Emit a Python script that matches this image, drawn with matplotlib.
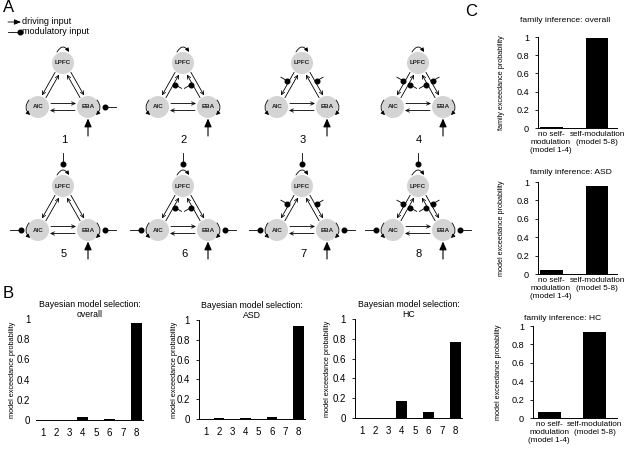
import matplotlib
matplotlib.use("Agg")
import matplotlib.pyplot as plt
import numpy as np
from matplotlib.patches import Circle, FancyArrowPatch

plt.rcParams['font.family'] = ['Liberation Sans', 'DejaVu Sans']

# ---- data ----
model_ids = [1, 2, 3, 4, 5, 6, 7, 8]
self_mod = [["EBA"], [], [], [], ["LPFC", "AIC", "EBA"], ["LPFC", "AIC", "EBA"],
            ["LPFC", "AIC", "EBA"], ["LPFC", "AIC", "EBA"]]
fwd_mod = [False, True, False, True, False, True, False, True]
bwd_mod = [False, False, True, True, False, False, True, True]

bms_overall = [0, 0, 0, 0.025, 0, 0.01, 0, 0.96]
bms_asd = [0, 0.015, 0, 0.015, 0, 0.02, 0, 0.94]
bms_hc = [0, 0, 0, 0.17, 0, 0.06, 0, 0.77]

family_labels = ["no self-\nmodulation\n(model 1-4)", "self-modulation\n(model 5-8)"]
fam_overall = [0.01, 0.99]
fam_asd = [0.04, 0.96]
fam_hc = [0.07, 0.93]

yticks = [0, 0.2, 0.4, 0.6, 0.8, 1]
ytick_labels = ["0", "0.2", "0.4", "0.6", "0.8", "1"]

W, H = 630, 450
fig = plt.figure(figsize=(6.3, 4.5), dpi=100)

# overlay axes in pixel coords for panel A
bg = fig.add_axes([0, 0, 1, 1])
bg.set_xlim(0, W)
bg.set_ylim(H, 0)
bg.axis("off")

LW = 0.6
NODE_R = 11
GREY = "#d4d4d4"


def arrow(p0, p1, style="->", hl=2.5, hw=1.2, rad=None, lw=LW):
    st = style + ",head_length=%g,head_width=%g" % (hl, hw)
    kw = dict(arrowstyle=st, lw=lw, color="black", shrinkA=0, shrinkB=0)
    if rad is not None:
        kw["connectionstyle"] = "arc3,rad=%g" % rad
    bg.add_patch(FancyArrowPatch(p0, p1, **kw))


def mod_input(p_from, p_dot):
    bg.plot([p_from[0], p_dot[0]], [p_from[1], p_dot[1]], color="black", lw=LW)
    bg.plot(p_dot[0], p_dot[1], "o", color="black", ms=3.3)


def draw_model(cx, cy, idx, label_y):
    nodes = {"LPFC": (cx, cy), "AIC": (cx - 25, cy + 44), "EBA": (cx + 25, cy + 44)}
    for name, (x, y) in nodes.items():
        bg.add_patch(Circle((x, y), NODE_R, color=GREY, ec="none"))
        bg.text(x, y, name, ha="center", va="center", fontsize=4.5, fontweight="bold", color="#222222")

    tri_c = np.array([cx, cy + 30])
    # diagonal pairs: outer line backward (LPFC->X), inner forward (X->LPFC)
    for side in ["AIC", "EBA"]:
        a = np.array(nodes[side], float)
        b = np.array(nodes["LPFC"], float)
        d = (b - a) / np.linalg.norm(b - a)
        n = np.array([-d[1], d[0]])
        if np.dot(tri_c - (a + b) / 2, n) < 0:
            n = -n
        off = 2.3
        arrow(a + d * (NODE_R + 1) + n * off, b - d * (NODE_R + 1) + n * off)
        arrow(b - d * (NODE_R + 1) - n * off, a + d * (NODE_R + 1) - n * off)
        if fwd_mod[idx]:
            p = a + (b - a) * 0.55 + n * off
            mod_input(p + n * 9, p + n * 1.8)
        if bwd_mod[idx]:
            p = a + (b - a) * 0.55 - n * off
            mod_input(p - n * 9, p - n * 1.8)

    # horizontal pair
    ax_, ay_ = nodes["AIC"]
    ex, ey = nodes["EBA"]
    arrow((ax_ + NODE_R + 2, ay_ - 3.5), (ex - NODE_R - 1, ey - 3.5))
    arrow((ex - NODE_R - 2, ey + 3.5), (ax_ + NODE_R + 1, ay_ + 3.5))

    # self connections
    arrow((cx - 6, cy - NODE_R), (cx + 6, cy - NODE_R), style="-|>", hl=2.2, hw=1.1, rad=-0.8)
    arrow((ax_ - 9, ay_ - 7), (ax_ - 8, ay_ + 8), style="-|>", hl=2.2, hw=1.1, rad=0.45)
    arrow((ex + 9, ey - 7), (ex + 8, ey + 8), style="-|>", hl=2.2, hw=1.1, rad=-0.45)

    # self modulation
    if "LPFC" in self_mod[idx]:
        mod_input((cx, cy - 33), (cx, cy - 22))
    if "AIC" in self_mod[idx]:
        mod_input((ax_ - 28, ay_), (ax_ - 17, ay_))
    if "EBA" in self_mod[idx]:
        mod_input((ex + 28, ey), (ex + 17, ey))

    # driving input
    arrow((ex, ey + 29), (ex, ey + NODE_R + 0.5), style="-|>", hl=5, hw=2.2, lw=0.8)

    bg.text(cx + 1, label_y, str(model_ids[idx]), ha="center", va="center", fontsize=8)


col_x = [63, 183, 302, 418]
row_y = [63, 186]
label_rows = [140, 254]
for i in range(len(model_ids)):
    r, c = divmod(i, 4)
    draw_model(col_x[c], row_y[r], i, label_rows[r])

# legend
arrow((8, 22), (21, 22), style="-|>", hl=4, hw=1.6)
bg.text(22, 22, "driving input", va="center", fontsize=6.5)
bg.plot([8, 19], [32, 32], color="black", lw=LW)
bg.plot(19.5, 32, "o", color="black", ms=3.3)
bg.text(22, 32, "modulatory input", va="center", fontsize=6.5)

# panel letters
bg.text(3, 8, "A", fontsize=12, va="center")
bg.text(3, 293, "B", fontsize=12, va="center")
bg.text(465, 12, "C", fontsize=12, va="center")


def px_axes(left, right, top, bottom):
    return fig.add_axes([left / W, 1 - bottom / H, (right - left) / W, (bottom - top) / H])


def style_axes(ax, spine=True):
    for s in ["top", "right"]:
        ax.spines[s].set_visible(False)
    ax.spines["left"].set_visible(spine)
    ax.spines["left"].set_linewidth(0.7)
    ax.spines["bottom"].set_linewidth(0.7)
    ax.set_yticks(yticks)
    ax.set_yticklabels(ytick_labels)
    ax.set_ylim(0, 1)
    ax.patch.set_alpha(0)
    if spine:
        ax.tick_params(axis="y", length=2.5, width=0.6, pad=4)
    else:
        ax.tick_params(axis="y", length=0, pad=4)
    ax.tick_params(axis="x", length=0, pad=6)


def label_at(ax, rect, x_px):
    # place the y label so its centre sits at x_px (figure pixels)
    left, right = rect[0], rect[1]
    ax.yaxis.set_label_coords((x_px + 3 - left) / (right - left), 0.5)


# panel B
b_sets = [(bms_overall, (36, 143, 319, 420), False, "Bayesian model selection:\noverall", 13),
          (bms_asd, (199, 305, 320, 419), True, "Bayesian model selection:\nASD", 175),
          (bms_hc, (355, 462, 319, 418), True, "Bayesian model selection:\nHC", 328)]
for vals, rect, spine, title, ylx in b_sets:
    ax = px_axes(*rect)
    ax.bar(model_ids, vals, width=0.8, color="black")
    ax.set_xlim(0.5, 8.5)
    ax.set_xticks(model_ids)
    style_axes(ax, spine)
    ax.tick_params(labelsize=7)
    ax.set_ylabel("model exceedance probability", fontsize=5.3)
    label_at(ax, rect, ylx)
    ax.set_title(title, fontsize=6.3, pad=1.5, linespacing=1.1)

# panel C
c_sets = [(fam_overall, (538, 617, 37, 128), (0.717, 2.435), "family inference: overall", 565, 21,
           "family exceedance probability", 502),
          (fam_asd, (538, 617, 182, 274), (0.717, 2.435), "family inference: ASD", 571, 173,
           "model exceedance probability", 502),
          (fam_hc, (533, 617, 326, 418), (0.65, 2.48), "family inference: HC", 563, 319,
           "model exceedance probability", 499)]
for vals, rect, xl, title, tx, ty, ylab, ylx in c_sets:
    ax = px_axes(*rect)
    pos = [1, 2]
    ax.bar(pos, vals, width=0.5, color="black")
    ax.set_xlim(*xl)
    ax.set_xticks(pos)
    ax.set_xticklabels(family_labels, linespacing=1.15, fontsize=5.9)
    style_axes(ax, True)
    ax.tick_params(axis="y", labelsize=6.6)
    ax.tick_params(axis="x", pad=2.5)
    ax.set_ylabel(ylab, fontsize=5.2)
    label_at(ax, rect, ylx)
    bg.text(tx, ty, title, ha="center", va="center", fontsize=6.1)

fig.savefig("out.png", dpi=100)
